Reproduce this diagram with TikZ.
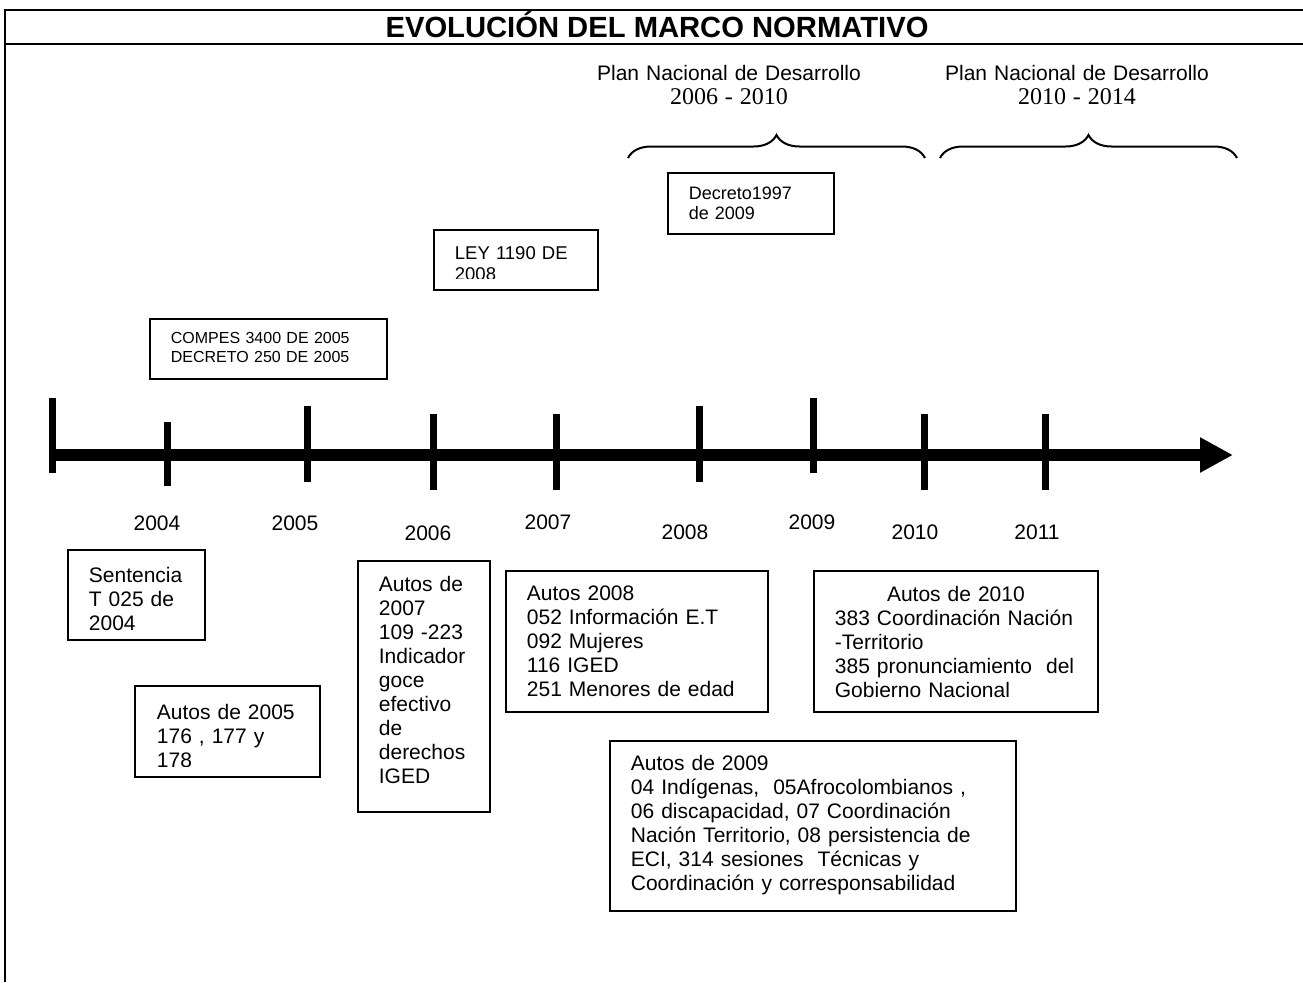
\documentclass[tikz,border=0pt]{standalone}
\usepackage{fontspec}
\setmainfont{Liberation Sans}
\newfontfamily\yearfont{Liberation Serif}
\usepackage{tikz}
\usetikzlibrary{arrows.meta, decorations.pathreplacing}

\begin{document}
\begin{tikzpicture}[
  x=0.5pt, y=-0.5pt,
  font=\fontsize{10.5}{12}\selectfont,
  frame/.style={draw, line width=1pt},
  block/.style={draw, line width=0.9pt, anchor=north west, align=left, inner xsep=10.5pt, inner ysep=0pt},
  tick/.style={draw, line width=3.5pt},
  axis/.style={draw, line width=6pt, -{Triangle[length=16.5pt, width=16.5pt]}},
  brace/.style={draw, line width=1pt, decorate, decoration={brace, amplitude=11.5pt}},
  plan/.style={anchor=base, align=center, text width=150pt},
  year/.style={anchor=center}
]
  \useasboundingbox (0,0) rectangle (1303,982);

  % frame and title
  \draw [frame] (1303,10) -- (5,10) -- (5,982);
  \draw [frame] (5,44) -- (1303,44);
  \node [anchor=base, font=\fontsize{14.6}{16}\selectfont\bfseries] (title) at (657,37.5) {EVOLUCIÓN DEL MARCO NORMATIVO};

  % development plans
  \node [plan] (pnd1) at (729,80) {Plan Nacional de Desarrollo\\{\yearfont\fontsize{12}{12}\selectfont 2006 - 2010}};
  \node [plan] (pnd2) at (1077,80) {Plan Nacional de Desarrollo\\{\yearfont\fontsize{12}{12}\selectfont 2010 - 2014}};
  \coordinate (b1l) at (628,158);
  \coordinate (b1r) at (925,158);
  \coordinate (b2l) at (940,158);
  \coordinate (b2r) at (1237,158);
  \draw [brace] (b1l) -- (b1r);
  \draw [brace] (b2l) -- (b2r);

  % boxes above the line
  \node [block, font=\fontsize{9}{10}\selectfont, text width=62pt, text height=13.25pt, text depth=17.25pt] (decreto) at (667,172) {Decreto1997\\de 2009};
  \begin{scope}
    \clip (434,230) rectangle (596,278);
    \node [block, draw=none, inner xsep=10pt, font=\fontsize{9.25}{10.5}\selectfont, text width=61pt, text height=14.3pt, text depth=14.7pt] (ley) at (434,230) {LEY 1190 DE\\2008};
  \end{scope}
  \draw [line width=0.9pt] (ley.north west) rectangle (ley.south east);
  \node [block, font=\fontsize{8}{9.5}\selectfont, text width=97.5pt, text height=12.35pt, text depth=17.65pt] (compes) at (149,318) {COMPES 3400 DE 2005\\DECRETO 250 DE 2005};

  % time line
  \coordinate (tstart) at (50,455);
  \coordinate (tend) at (1233,455);
  \draw [axis] (tstart) -- (tend);
  \draw [tick] (52,398) -- (52,473);
  \foreach \x/\ya/\yb/\lx/\ly/\yr in {167/422/486/157/523/2004, 307/406/482/295/523/2005,
      433/414/490/428/533/2006, 556/414/490/548/522/2007, 699/406/482/685/532/2008,
      813/398/473/812/522/2009, 924/414/490/915/532/2010, 1045/414/490/1037/532/2011}
  {
    \draw [tick] (\x,\ya) -- (\x,\yb);
    \node [year] (y\yr) at (\lx,\ly) {\yr};
  }

  % boxes below the line
  \node [block, text width=47.5pt, text height=16.5pt, text depth=28.5pt] (sentencia) at (67,549) {Sentencia\\T 025 de\\2004};
  \begin{scope}
    \clip (135,686) rectangle (318,766);
    \node [block, draw=none, text width=70.5pt, text height=16.5pt, text depth=28pt] (autos05) at (135,686) {Autos de 2005\\176 , 177 y\\178};
  \end{scope}
  \draw [line width=0.9pt] (autos05.north west) rectangle (autos05.south east);
  \node [block, text width=45pt, text height=15.5pt, text depth=110pt] (autos07) at (357,560) {Autos de\\2007\\109 -223\\Indicador\\goce\\efectivo\\de\\derechos\\IGED};
  \node [block, text width=110pt, text height=15pt, text depth=55.5pt] (autos08) at (505,570) {Autos 2008\\052 Información E.T\\092 Mujeres\\116 IGED\\251 Menores de edad};
  \node [block, text width=121pt, text height=15.5pt, text depth=55pt] (autos10) at (813,570) {\makebox[\linewidth]{Autos de 2010}\\383 Coordinación Nación\\-Territorio\\385 pronunciamiento\ \ del\\Gobierno Nacional};
  \node [block, text width=182pt, text height=15pt, text depth=70pt] (autos09) at (609,740) {Autos de 2009\\04 Indígenas,\ \ 05Afrocolombianos ,\\06 discapacidad, 07 Coordinación\\Nación Territorio, 08 persistencia de\\ECI, 314 sesiones\ \ Técnicas y\\Coordinación y corresponsabilidad};
\end{tikzpicture}
\end{document}
